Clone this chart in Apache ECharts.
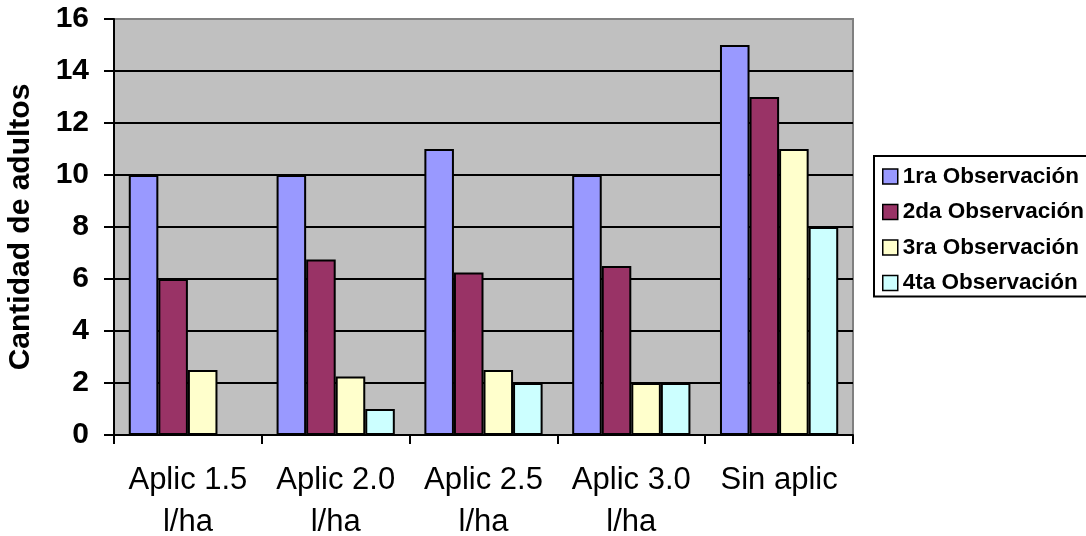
<!DOCTYPE html>
<html>
<head>
<meta charset="utf-8">
<script src="https://cdn.jsdelivr.net/npm/echarts@6/dist/echarts.min.js"></script>
<style>
  html, body { margin: 0; padding: 0; background: #ffffff; }
  #chart { width: 1086px; height: 536px; }
</style>
</head>
<body>
<div id="chart"></div>
<script>
var categories = ["Aplic 1.5\nl/ha", "Aplic 2.0\nl/ha", "Aplic 2.5\nl/ha", "Aplic 3.0\nl/ha", "Sin aplic"];
var seriesNames = ["1ra Observación", "2da Observación", "3ra Observación", "4ta Observación"];
var obs1 = [10, 10, 11, 10, 15];
var obs2 = [6, 6.75, 6.25, 6.5, 13];
var obs3 = [2.5, 2.25, 2.5, 2, 11];
var obs4 = [0, 1, 2, 2, 8];
var yTicks = { min: 0, max: 16, interval: 2 };
var colors = ["#9999FF", "#993366", "#FFFFCC", "#CCFFFF"];
var allData = [obs1, obs2, obs3, obs4];

var FONT = "'Liberation Sans', Arial, sans-serif";

var series = seriesNames.map(function (name, i) {
  return {
    name: name,
    type: 'bar',
    data: allData[i],
    barGap: '0%',
    barCategoryGap: '20%',
    itemStyle: { color: colors[i], borderColor: '#000000', borderWidth: 2 },
    emphasis: { disabled: true }
  };
});

var chart = echarts.init(document.getElementById('chart'), null, { renderer: 'canvas' });
chart.setOption({
  animation: false,
  backgroundColor: '#ffffff',
  textStyle: { fontFamily: FONT },
  grid: {
    left: 114, right: 233, top: 19, bottom: 101,
    containLabel: false,
    outerBoundsMode: 'none',
    show: true, backgroundColor: '#C0C0C0', borderColor: '#808080', borderWidth: 2
  },
  legend: {
    orient: 'vertical',
    left: 874, top: 156,
    itemWidth: 15, itemHeight: 15, itemGap: 12.5,
    padding: [9, 24, 2, 8],
    borderColor: '#000000', borderWidth: 2,
    icon: 'rect',
    itemStyle: { borderColor: '#000000', borderWidth: 1.5 },
    textStyle: { fontFamily: FONT, fontSize: 22.5, fontWeight: 'bold', color: '#000000', lineHeight: 22 },
    data: seriesNames
  },
  xAxis: {
    type: 'category',
    data: categories,
    axisLine: { show: true, lineStyle: { color: '#000000', width: 2 } },
    axisTick: { show: true, length: 9, lineStyle: { color: '#000000', width: 2 } },
    axisLabel: {
      interval: 0, margin: 24,
      fontFamily: FONT, fontSize: 31, color: '#000000', lineHeight: 42
    },
    splitLine: { show: false }
  },
  yAxis: {
    type: 'value',
    min: yTicks.min, max: yTicks.max, interval: yTicks.interval,
    name: 'Cantidad de adultos',
    nameLocation: 'middle',
    nameGap: 78,
    nameTextStyle: { fontFamily: FONT, fontSize: 30, fontWeight: 'bold', color: '#000000' },
    axisLine: { show: true, lineStyle: { color: '#000000', width: 2 } },
    axisTick: { show: true, length: 10, lineStyle: { color: '#000000', width: 2 } },
    axisLabel: { margin: 25, fontFamily: FONT, fontSize: 30, fontWeight: 'bold', color: '#000000' },
    splitLine: { show: true, showMaxLine: false, lineStyle: { color: '#000000', width: 2 } }
  },
  series: series
});
</script>
</body>
</html>
